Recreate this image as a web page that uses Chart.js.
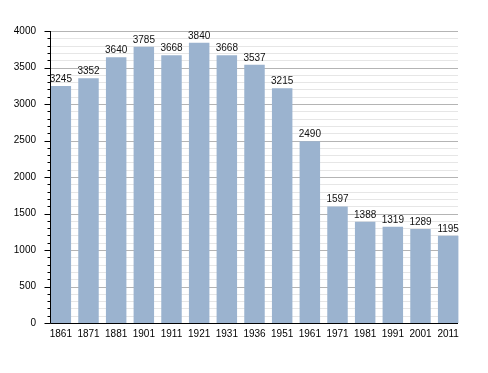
<!DOCTYPE html>
<html>
<head>
<meta charset="utf-8">
<script src="https://cdn.jsdelivr.net/npm/chart.js@4"></script>
<style>
  html, body { margin: 0; padding: 0; background: #fff; }
  #wrap { width: 488px; height: 373px; }
</style>
</head>
<body>
<div id="wrap"><canvas id="popChart" width="488" height="373"></canvas></div>
<script>
const years = ["1861", "1871", "1881", "1901", "1911", "1921", "1931", "1936", "1951", "1961", "1971", "1981", "1991", "2001", "2011"];
const population = [3245, 3352, 3640, 3785, 3668, 3840, 3668, 3537, 3215, 2490, 1597, 1388, 1319, 1289, 1195];
const yMax = 4000;
const majorStep = 500;
const minorStep = 100;

const FONT = "'Liberation Sans', Arial, sans-serif";

// grid, axis lines, tick marks and value labels
const decor = {
  id: "decor",
  beforeDatasetsDraw(chart) {
    const { ctx, chartArea } = chart;
    const y = chart.scales.y;
    const x0 = chartArea.left + 3, x1 = chartArea.right - 4;
    ctx.save();
    ctx.lineWidth = 1;
    for (let v = minorStep; v <= yMax; v += minorStep) {
      const py = Math.round(y.getPixelForValue(v)) + 0.5;
      ctx.strokeStyle = v % majorStep === 0 ? "#b4b4b4" : "#e6e6e6";
      ctx.beginPath();
      ctx.moveTo(x0, py);
      ctx.lineTo(x1, py);
      ctx.stroke();
    }
    ctx.restore();
  },
  afterDatasetsDraw(chart) {
    const { ctx, chartArea } = chart;
    const y = chart.scales.y;
    const x0 = chartArea.left + 3.5, x1 = chartArea.right - 4;
    const bottom = Math.round(y.getPixelForValue(0)) + 0.5;
    ctx.save();
    ctx.strokeStyle = "#000";
    ctx.lineWidth = 1;
    ctx.beginPath();
    ctx.moveTo(x0, Math.round(y.getPixelForValue(yMax)));
    ctx.lineTo(x0, bottom);
    ctx.lineTo(x1, bottom);
    ctx.stroke();
    for (let v = 0; v <= yMax; v += minorStep) {
      const py = Math.round(y.getPixelForValue(v)) + 0.5;
      const len = v % majorStep === 0 ? 6 : 3;
      ctx.beginPath();
      ctx.moveTo(x0 - len, py);
      ctx.lineTo(x0, py);
      ctx.stroke();
    }
    // value labels
    ctx.fillStyle = "#111";
    ctx.font = "10px " + FONT;
    ctx.textAlign = "center";
    ctx.textBaseline = "alphabetic";
    chart.getDatasetMeta(0).data.forEach((bar, i) => {
      ctx.fillText(population[i], bar.x, bar.y - 4);
    });
    ctx.restore();
  }
};

new Chart(document.getElementById("popChart"), {
  type: "bar",
  data: {
    labels: years,
    datasets: [{
      data: population,
      backgroundColor: "#9bb3cf",
      borderWidth: 0,
      barPercentage: 0.74,
      categoryPercentage: 1.0
    }]
  },
  options: {
    responsive: false,
    animation: false,
    layout: { padding: { top: 31, right: 26, bottom: 0, left: 0 } },
    plugins: { legend: { display: false }, tooltip: { enabled: false } },
    scales: {
      x: {
        grid: { display: false, drawTicks: false },
        border: { display: false },
        ticks: { color: "#000", font: { size: 10, family: FONT }, padding: 5, maxRotation: 0, autoSkip: false },
        afterFit(scale) { scale.height = 50; }
      },
      y: {
        min: 0,
        max: yMax,
        grid: { display: false, drawTicks: false },
        border: { display: false },
        ticks: {
          stepSize: majorStep,
          color: "#000",
          font: { size: 10, family: FONT },
          padding: 11,
          callback: (v) => String(v)
        },
        afterFit(scale) { scale.width = 47; }
      }
    }
  },
  plugins: [decor]
});
</script>
</body>
</html>
